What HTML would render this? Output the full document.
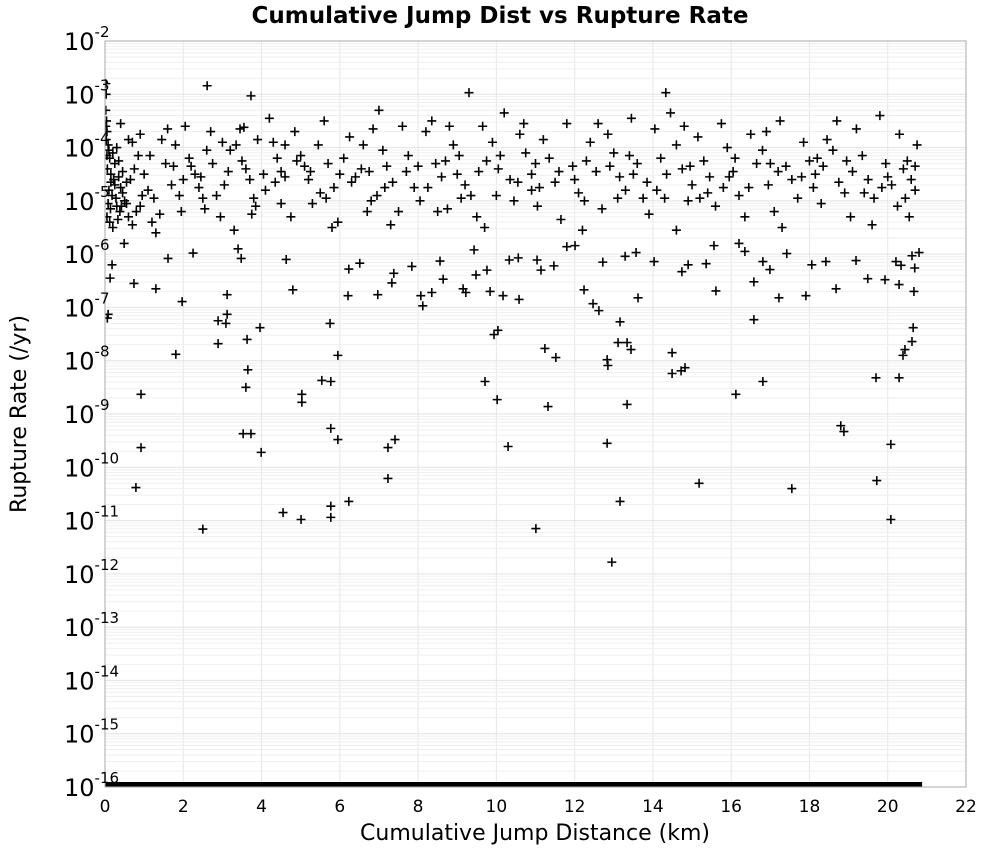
<!DOCTYPE html>
<html><head><meta charset="utf-8"><style>
body{margin:0;background:#fff;}
svg text{font-family:"DejaVu Sans","Liberation Sans",sans-serif;}
</style></head><body>
<svg id="chart" width="1000" height="850" xmlns="http://www.w3.org/2000/svg">
<text x="500" y="23" text-anchor="middle" font-size="23" font-weight="bold">Cumulative Jump Dist vs Rupture Rate</text>
<text x="535" y="840" text-anchor="middle" font-size="22">Cumulative Jump Distance (km)</text>
<text transform="translate(26,414) rotate(-90)" text-anchor="middle" font-size="22">Rupture Rate (/yr)</text>
<g id="grid"></g>
<clipPath id="cp"><rect x="105" y="41" width="861" height="746"/></clipPath>
<g id="pts" clip-path="url(#cp)"></g>
<rect x="105" y="41" width="861" height="746" fill="none" stroke="#aaa" stroke-width="1"/>
<g id="ticks"></g>
</svg>
<script>
const xTicks=[0,2,4,6,8,10,12,14,16,18,20,22];
const yDecades=[-2,-3,-4,-5,-6,-7,-8,-9,-10,-11,-12,-13,-14,-15,-16];
// [cumulative jump distance km, log10 rupture rate]
const sparsePoints=[[2.61,-2.84],[3.73,-3.03],[9.30,-2.97],[14.33,-2.97],[12.95,-11.78],[2.50,-11.16],[11.01,-11.15],[20.08,-10.98],[4.55,-10.85],[5.01,-10.98],[5.77,-10.94],[5.77,-10.73],[6.23,-10.64],[7.23,-10.21],[0.79,-10.38],[13.16,-10.64],[15.18,-10.30],[17.55,-10.40],[19.72,-10.25],[0.92,-9.63],[3.99,-9.72],[3.53,-9.37],[3.73,-9.37],[5.77,-9.27],[5.95,-9.48],[7.23,-9.63],[7.41,-9.48],[10.30,-9.61],[12.83,-9.55],[18.80,-9.22],[18.88,-9.33],[20.08,-9.57],[0.92,-8.63],[3.60,-8.50],[3.65,-8.17],[5.03,-8.63],[5.03,-8.78],[5.54,-8.37],[5.77,-8.39],[9.71,-8.39],[10.02,-8.73],[11.32,-8.86],[13.34,-8.82],[16.12,-8.63],[16.81,-8.39],[19.70,-8.32],[20.29,-8.32],[1.81,-7.88],[5.95,-7.90],[12.83,-7.98],[12.85,-8.09],[14.49,-7.85],[14.49,-8.24],[14.82,-8.13],[14.72,-8.19],[11.24,-7.77],[11.52,-7.94],[13.11,-7.66],[13.34,-7.66],[13.44,-7.79],[20.39,-7.90],[20.62,-7.64],[20.44,-7.79],[2.89,-7.25],[3.12,-7.13],[3.09,-7.30],[3.96,-7.38],[3.63,-7.60],[2.89,-7.68],[5.75,-7.30],[10.04,-7.43],[9.94,-7.51],[16.58,-7.23],[20.65,-7.38],[0.08,-7.13],[0.06,-7.2],[0.74,-6.55],[1.30,-6.65],[1.97,-6.89],[4.80,-6.67],[6.21,-6.78],[6.97,-6.76],[7.33,-6.54],[8.07,-6.78],[8.12,-6.97],[8.35,-6.72],[9.15,-6.65],[9.22,-6.72],[9.84,-6.70],[10.17,-6.78],[10.58,-6.85],[12.24,-6.67],[12.47,-6.93],[12.62,-7.06],[13.16,-7.27],[13.62,-6.82],[15.61,-6.69],[16.58,-6.52],[17.22,-6.82],[17.91,-6.78],[18.68,-6.65],[19.49,-6.46],[19.93,-6.48],[20.29,-6.57],[20.67,-6.70],[3.12,-6.76],
[0.13,-6.45],[0.18,-6.2],[0.49,-5.8],[1.61,-6.08],[2.25,-5.98],[3.40,-5.9],[3.48,-6.08],[4.63,-6.1],[6.23,-6.28],[6.51,-6.17],[7.38,-6.36],[7.84,-6.23],[8.56,-6.13],[8.64,-6.47],[9.43,-5.92],[9.48,-6.39],[9.76,-6.3],[10.33,-6.11],[10.56,-6.07],[11.04,-6.11],[11.14,-6.3],[11.47,-6.22],[11.80,-5.86],[12.01,-5.84],[12.72,-6.15],[13.29,-6.04],[13.57,-5.97],[14.03,-6.14],[14.74,-6.33],[14.90,-6.2],[15.36,-6.18],[15.56,-5.84],[16.20,-5.8],[16.35,-5.95],[16.81,-6.14],[16.99,-6.29],[17.42,-5.99],[18.06,-6.2],[18.42,-6.14],[19.19,-6.12],[20.21,-6.14],[20.34,-6.21],[20.62,-6.03],[20.69,-6.26],[20.80,-5.97],[0.02,-2.8],[0.03,-3.0],[0.02,-3.3],[0.04,-3.5]];
const bandPoints=[
[0.02,-3.6],[0.05,-3.7],[0.03,-3.85],[0.08,-3.95],[0.1,-4.05],[0.05,-4.15],[0.12,-4.2],[0.2,-4.1],[0.25,-4.3],[0.3,-4.0],[0.06,-4.4],[0.15,-4.5],[0.22,-4.6],[0.35,-4.55],[0.4,-4.75],[0.1,-4.8],[0.18,-4.9],[0.28,-4.95],[0.45,-4.85],[0.5,-5.0],[0.08,-5.05],[0.14,-5.15],[0.3,-5.1],[0.38,-5.2],[0.55,-5.05],[0.05,-5.3],[0.12,-5.4],[0.2,-5.5],[0.33,-5.35],[0.6,-5.3],[0.7,-5.45],[0.8,-5.2],[0.9,-5.1],[0.65,-4.6],[0.75,-4.4],[0.85,-4.15],[1.0,-4.5],[0.95,-4.9],[1.1,-4.8],[0.7,-3.9],[0.6,-3.85],[1.2,-5.4],[1.3,-5.6],[1.45,-3.85],[1.6,-3.65],[1.55,-4.3],[1.75,-4.35],[1.9,-4.9],[1.95,-5.2],[2.05,-3.6],[2.15,-4.2],[2.3,-4.5],[2.45,-4.55],[2.55,-5.15],[2.6,-4.05],[2.75,-4.3],[2.85,-4.9],[2.95,-5.3],[3.05,-4.7],[3.2,-4.05],[3.35,-3.95],[3.45,-3.65],[3.55,-3.62],[3.6,-4.4],[3.7,-4.6],[3.75,-5.25],[3.85,-5.1],[3.9,-3.85],[4.05,-4.5],[4.2,-3.45],[4.3,-3.9],[4.4,-4.2],[4.5,-4.45],[4.6,-4.55],[4.75,-5.3],[4.85,-3.7],[5.0,-4.15],[5.1,-4.35],[5.2,-4.6],[5.3,-5.05],[5.45,-3.95],[5.6,-3.5],[5.7,-4.3],[5.85,-4.75],[5.95,-5.4],[6.1,-4.2],[6.25,-3.8],[6.4,-4.55],[6.55,-4.4],[6.7,-5.2],[6.85,-3.65],[7.0,-3.3],[7.1,-4.05],[7.2,-4.35],[7.35,-4.65],[7.5,-5.2],[7.6,-3.6],[7.75,-4.15],[7.9,-4.75],[8.05,-5.0],[8.2,-3.7],[8.35,-3.5],[8.45,-4.3],[8.6,-4.55],[8.75,-5.15],[8.9,-3.95],[9.05,-4.15],[9.2,-4.7],[9.35,-4.9],[9.5,-5.3],[9.65,-3.6],[9.75,-4.25],[9.9,-3.9],[10.05,-4.4],[10.2,-3.35],[10.35,-4.6],[10.45,-5.0],[10.6,-3.75],[10.75,-4.1],[10.9,-4.5],[11.05,-5.1],[11.2,-3.85],[11.35,-4.2],[11.5,-4.65],[11.65,-5.35],[11.8,-3.55],[11.95,-4.35],[12.1,-4.85],[12.25,-5.0],[12.4,-3.9],[12.55,-4.45],[12.7,-5.15],[12.85,-3.75],[13.0,-4.1],[13.15,-4.55],[13.3,-4.8],[13.45,-3.45],[13.6,-4.3],[13.75,-4.95],[13.9,-5.25],[14.05,-3.65],[14.2,-4.2],[14.35,-4.5],[14.45,-3.35],[14.6,-3.95],[14.75,-4.4],[14.9,-5.0],[15.0,-4.7],[15.15,-3.8],[15.3,-4.25],[15.45,-4.55],[15.6,-5.1],[15.75,-3.55],[15.9,-4.0],[16.05,-4.45],[16.2,-4.9],[16.35,-5.3],[16.5,-3.75],[16.65,-4.3],[16.8,-4.05],[16.95,-4.7],[17.1,-5.2],[17.25,-3.5],[17.4,-4.35],[17.55,-4.6],[17.7,-4.95],[17.85,-3.9],[18.0,-4.25],[18.15,-4.5],[18.3,-5.05],[18.45,-3.85],[18.6,-4.05],[18.75,-4.65],[18.9,-4.85],[19.05,-5.3],[19.2,-3.65],[19.35,-4.15],[19.5,-4.6],[19.65,-4.95],[19.8,-3.4],[19.95,-4.3],[20.1,-4.7],[20.25,-5.1],[20.4,-4.4],[20.5,-4.25],[20.6,-4.6],[20.7,-4.8],[20.75,-3.95],[1.15,-4.15],[2.0,-4.6],[3.0,-3.9],[4.1,-4.8],[5.5,-4.85],[6.0,-4.5],[6.95,-4.9],[8.0,-4.35],[9.0,-4.5],[10.0,-4.9],[11.0,-4.3],[12.0,-4.6],[13.1,-4.95],[14.1,-4.8],[15.2,-4.95],[16.1,-4.2],[17.0,-4.3],[18.1,-4.75],[19.1,-4.45],[20.0,-4.55],[0.4,-3.55],[1.8,-3.95],[2.7,-3.7],[4.6,-3.95],[6.6,-3.95],[8.8,-3.6],[10.7,-3.55],[12.6,-3.55],[14.8,-3.6],[16.9,-3.7],[18.7,-3.5],[20.3,-3.75],[1.4,-5.25],[3.3,-5.55],[5.8,-5.5],[7.3,-5.45],[9.7,-5.5],[12.2,-5.55],[14.6,-5.55],[17.3,-5.5],[19.6,-5.45],[0.9,-3.75],[2.4,-4.75],[4.5,-5.05],[6.8,-5.0],[8.5,-5.2],[10.9,-4.8],[13.5,-4.5],[15.8,-4.75],[18.2,-4.2],[20.55,-5.3],
[0.35,-4.25],[0.45,-4.45],[0.25,-4.7],[0.15,-4.65],[0.42,-5.1],[0.55,-4.65],[1.25,-4.95],[1.7,-4.7],[2.2,-4.35],[2.5,-4.95],[3.15,-4.45],[3.5,-4.25],[3.8,-4.95],[4.35,-4.65],[4.9,-4.25],[5.25,-4.45],[5.65,-4.95],[6.3,-4.65],[6.75,-4.45],[7.15,-4.75],[7.7,-4.45],[8.25,-4.75],[8.7,-4.25],[9.1,-4.95],[9.55,-4.45],[10.1,-4.15],[10.55,-4.65],[11.1,-4.75],[11.6,-4.45],[12.3,-4.25],[12.9,-4.35],[13.4,-4.15],[13.85,-4.65],[14.3,-4.95],[14.95,-4.35],[15.4,-4.85],[15.95,-4.55],[16.45,-4.75],[17.2,-4.45],[17.8,-4.55],[18.35,-4.35],[18.95,-4.25],[19.4,-4.85],[19.85,-4.75],[20.45,-4.95],[20.7,-4.35]];
const floorX=[0,0.3,0.6,0.9,1.2,1.5,1.8,2.1,2.4,2.7,3,3.3,3.6,3.9,4.2,4.5,4.8,5.1,5.4,5.7,6,6.3,6.6,6.9,7.2,7.5,7.8,8.1,8.4,8.7,9,9.3,9.6,9.9,10.2,10.5,10.8,11.1,11.4,11.7,12,12.3,12.6,12.9,13.2,13.5,13.8,14.1,14.4,14.7,15,15.3,15.6,15.9,16.2,16.5,16.8,17.1,17.4,17.7,18,18.3,18.6,18.9,19.2,19.5,19.8,20.1,20.4,20.6,20.7];
const floorLog=-16;

const L=105,R=966,T=41,B=787;
const xs=v=>L+(v-0)/(22-0)*(R-L);
const ys=lg=>T+(-2-lg)/(14)*(B-T);
const NS="http://www.w3.org/2000/svg";
const grid=document.getElementById('grid'),ticks=document.getElementById('ticks'),pts=document.getElementById('pts');
function mk(tag,attrs,parent){const e=document.createElementNS(NS,tag);for(const k in attrs)e.setAttribute(k,attrs[k]);parent.appendChild(e);return e;}
for(const t of xTicks){
  const x=xs(t);
  const gl=mk('line',{x1:x,x2:x,y1:T,y2:B,stroke:'#e6e6e6','stroke-width':1},grid);
  
  
  const tx=mk('text',{x:x,y:812,'text-anchor':'middle','font-size':17},ticks);
  
  
  tx.textContent=String(t);
}
for(const d of yDecades){
  const y=ys(d);
  const gl=mk('line',{x1:L,x2:R,y1:y,y2:y,stroke:'#e2e2e2','stroke-width':1},grid);
  
  
  if(d>-16){for(let m=2;m<=9;m++){const yy=ys(d-1+Math.log10(m));const ml=mk('line',{x1:L,x2:R,y1:yy,y2:yy,stroke:'#efefef','stroke-width':1},grid);
    
    }}
  const tx=mk('text',{x:64,y:y+9,'font-size':24},ticks);
  
  
  tx.textContent='10';
  const sp=mk('tspan',{dy:-13,'font-size':15},tx);
  sp.textContent=String(d);
}
function plus(x,y,sw){
  return mk('path',{d:`M${x-4.5},${y}H${x+4.5}M${x},${y-4.5}V${y+4.5}`,stroke:'#000','stroke-width':sw||1.6,fill:'none'},pts);
}
for(const p of sparsePoints.concat(bandPoints)){
  const e=plus(xs(p[0]),ys(p[1]));
  
  
}
for(const v of floorX){
  const e=mk('rect',{x:xs(v)-7,y:ys(floorLog)-5,width:14,height:5,fill:'#000'},pts);
  
  
}
</script>
</body></html>
